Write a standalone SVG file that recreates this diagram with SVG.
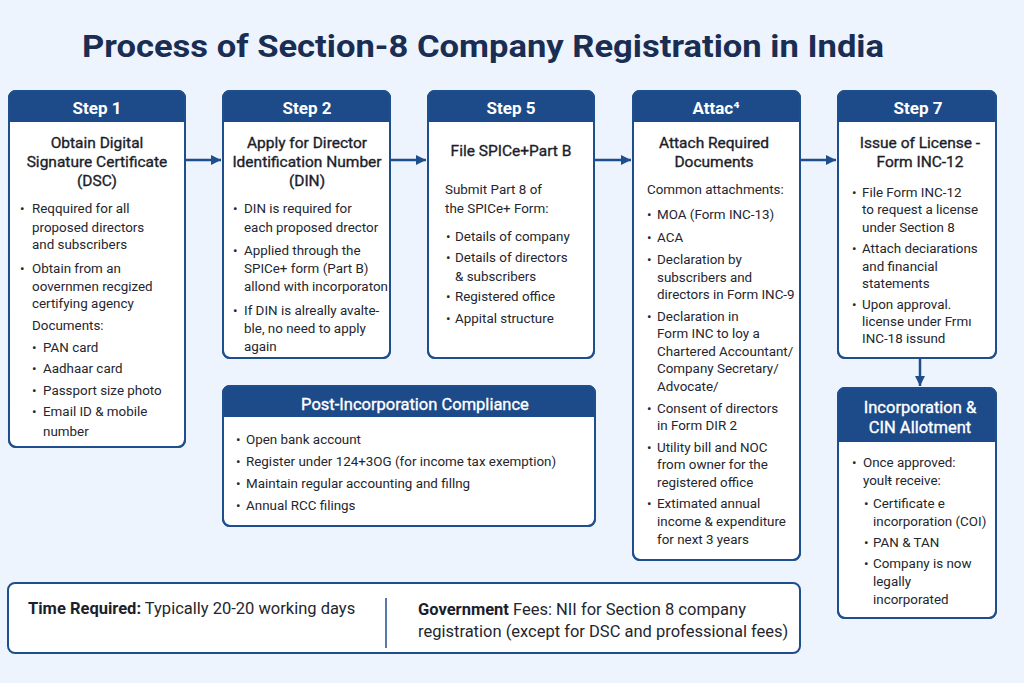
<svg xmlns="http://www.w3.org/2000/svg" width="1024" height="683" viewBox="0 0 1024 683">
<defs>
<style>
.bg{fill:#eef4fd}
.box{fill:#ffffff;stroke:#1f4e8c;stroke-width:2}
.hdr{fill:#1d4a88}
.ht{font-family:Roboto,"Liberation Sans",sans-serif;font-size:17px;font-weight:700;fill:#ffffff;text-anchor:middle}
.ht2{font-family:Roboto,"Liberation Sans",sans-serif;font-size:16.5px;font-weight:400;fill:#ffffff;stroke:#ffffff;stroke-width:0.35;text-anchor:middle}
.tt{font-family:Roboto,"Liberation Sans",sans-serif;font-size:15.5px;font-weight:400;fill:#1b1e2b;stroke:#1b1e2b;stroke-width:0.35;text-anchor:middle}
.b{font-family:Roboto,"Liberation Sans",sans-serif;font-size:13.4px;fill:#24262e}
.ft{font-family:Roboto,"Liberation Sans",sans-serif;font-size:16.5px;fill:#24262e}
.fb{font-weight:700;fill:#1b1e2b}
.title{font-family:Roboto,"Liberation Sans",sans-serif;font-size:31px;font-weight:700;fill:#1a2d52;text-anchor:middle}
.con{stroke:#1f4e8c;stroke-width:2.5;fill:none}
</style>
<marker id="ah" viewBox="0 0 10 10" refX="10" refY="5" markerWidth="4" markerHeight="4" markerUnits="strokeWidth" orient="auto">
<path d="M0,0 L10,5 L0,10 Z" fill="#1f4e8c"/>
</marker>
</defs>
<rect class="bg" x="0" y="0" width="1024" height="683"/>
<text class="title" x="483" y="57" textLength="802" lengthAdjust="spacingAndGlyphs">Process of Section-8 Company Registration in India</text>

<g id="connectors">
<line class="con" x1="186" y1="160" x2="221" y2="160" marker-end="url(#ah)"/>
<line class="con" x1="391" y1="160" x2="426" y2="160" marker-end="url(#ah)"/>
<line class="con" x1="595" y1="160" x2="631" y2="160" marker-end="url(#ah)"/>
<line class="con" x1="801" y1="160" x2="836" y2="160" marker-end="url(#ah)"/>
<line class="con" x1="920" y1="359" x2="920" y2="386" marker-end="url(#ah)"/>
</g>

<g id="step1">
<rect class="box" x="9" y="91" width="176" height="356" rx="7"/>
<path class="hdr" d="M9,122 L9,98 Q9,91 16,91 L178,91 Q185,91 185,98 L185,122 Z"/>
<rect x="9" y="91" width="176" height="356" rx="7" fill="none" stroke="#1f4e8c" stroke-width="2"/>
<text class="ht" x="97" y="114">Step 1</text>
<text class="tt" x="97" y="148">Obtain Digital</text>
<text class="tt" x="97" y="167">Signature Certificate</text>
<text class="tt" x="97" y="186">(DSC)</text>
<text class="b" x="20" y="213">•</text><text class="b" x="32" y="213">Reqquired for all</text>
<text class="b" x="32" y="232">proposed directors</text>
<text class="b" x="32" y="249">and subscribers</text>
<text class="b" x="20" y="273">•</text><text class="b" x="32" y="273">Obtain from an</text>
<text class="b" x="32" y="291">oovernmen  recgized</text>
<text class="b" x="32" y="308">certifying agency</text>
<text class="b" x="32" y="330">Documents:</text>
<text class="b" x="32" y="352">•</text><text class="b" x="43" y="352">PAN card</text>
<text class="b" x="32" y="373">•</text><text class="b" x="43" y="373">Aadhaar card</text>
<text class="b" x="32" y="395">•</text><text class="b" x="43" y="395">Passport size photo</text>
<text class="b" x="32" y="416">•</text><text class="b" x="43" y="416">Email ID &amp; mobile</text>
<text class="b" x="43" y="436">number</text>
</g>

<g id="step2">
<rect class="box" x="223" y="91" width="167" height="267" rx="7"/>
<path class="hdr" d="M223,122 L223,98 Q223,91 230,91 L383,91 Q390,91 390,98 L390,122 Z"/>
<rect x="223" y="91" width="167" height="267" rx="7" fill="none" stroke="#1f4e8c" stroke-width="2"/>
<text class="ht" x="307" y="114">Step 2</text>
<text class="tt" x="307" y="148">Apply for Director</text>
<text class="tt" x="307" y="167">Identification Number</text>
<text class="tt" x="307" y="186">(DIN)</text>
<text class="b" x="233" y="213">•</text><text class="b" x="244" y="213">DIN is required for</text>
<text class="b" x="244" y="232">each proposed drector</text>
<text class="b" x="233" y="255">•</text><text class="b" x="244" y="255">Applied through the</text>
<text class="b" x="244" y="273">SPICe+ form (Part B)</text>
<text class="b" x="244" y="291">allond with incorporaton</text>
<text class="b" x="233" y="315">•</text><text class="b" x="244" y="315">If DIN is alreally avalte-</text>
<text class="b" x="244" y="333">ble, no need to apply</text>
<text class="b" x="244" y="351">again</text>
</g>

<g id="step5">
<rect class="box" x="428" y="91" width="166" height="267" rx="7"/>
<path class="hdr" d="M428,122 L428,98 Q428,91 435,91 L587,91 Q594,91 594,98 L594,122 Z"/>
<rect x="428" y="91" width="166" height="267" rx="7" fill="none" stroke="#1f4e8c" stroke-width="2"/>
<text class="ht" x="511" y="114">Step 5</text>
<text class="tt" x="511" y="156">File SPICe+Part B</text>
<text class="b" x="445" y="194">Submit Part 8 of</text>
<text class="b" x="445" y="213">the SPICe+ Form:</text>
<text class="b" x="446" y="241">•</text><text class="b" x="455" y="241">Details of company</text>
<text class="b" x="446" y="262">•</text><text class="b" x="455" y="262">Details of directors</text>
<text class="b" x="455" y="281">&amp; subscribers</text>
<text class="b" x="446" y="301">•</text><text class="b" x="455" y="301">Registered office</text>
<text class="b" x="446" y="323">•</text><text class="b" x="455" y="323">Appital structure</text>
</g>

<g id="attach">
<rect class="box" x="633" y="91" width="167" height="469" rx="7"/>
<path class="hdr" d="M633,122 L633,98 Q633,91 640,91 L793,91 Q800,91 800,98 L800,122 Z"/>
<rect x="633" y="91" width="167" height="469" rx="7" fill="none" stroke="#1f4e8c" stroke-width="2"/>
<text class="ht" x="716" y="114">Attac⁴</text>
<text class="tt" x="714" y="148">Attach Required</text>
<text class="tt" x="714" y="167">Documents</text>
<text class="b" x="647" y="194">Common attachments:</text>
<text class="b" x="647" y="219">•</text><text class="b" x="657" y="219">MOA (Form INC-13)</text>
<text class="b" x="647" y="242">•</text><text class="b" x="657" y="242">ACA</text>
<text class="b" x="647" y="264">•</text><text class="b" x="657" y="264">Declaration by</text>
<text class="b" x="657" y="282">subscribers and</text>
<text class="b" x="657" y="299">directors in Form INC-9</text>
<text class="b" x="647" y="321">•</text><text class="b" x="657" y="321">Declaration in</text>
<text class="b" x="657" y="338">Form INC to loy a</text>
<text class="b" x="657" y="356">Chartered Accountant/</text>
<text class="b" x="657" y="373">Company Secretary/</text>
<text class="b" x="657" y="391">Advocate/</text>
<text class="b" x="647" y="413">•</text><text class="b" x="657" y="413">Consent of directors</text>
<text class="b" x="657" y="430">in Form DIR 2</text>
<text class="b" x="647" y="452">•</text><text class="b" x="657" y="452">Utility bill and NOC</text>
<text class="b" x="657" y="469">from owner for the</text>
<text class="b" x="657" y="487">registered office</text>
<text class="b" x="647" y="508">•</text><text class="b" x="657" y="508">Extimated annual</text>
<text class="b" x="657" y="526">income &amp; expenditure</text>
<text class="b" x="657" y="544">for next 3 years</text>
</g>

<g id="step7">
<rect class="box" x="838" y="91" width="158" height="267" rx="7"/>
<path class="hdr" d="M838,122 L838,98 Q838,91 845,91 L989,91 Q996,91 996,98 L996,122 Z"/>
<rect x="838" y="91" width="158" height="267" rx="7" fill="none" stroke="#1f4e8c" stroke-width="2"/>
<text class="ht" x="918" y="114">Step 7</text>
<text class="tt" x="920" y="148">Issue of License -</text>
<text class="tt" x="920" y="167">Form INC-12</text>
<text class="b" x="852" y="197">•</text><text class="b" x="862" y="197">File Form INC-12</text>
<text class="b" x="862" y="214">to request a license</text>
<text class="b" x="862" y="232">under Section 8</text>
<text class="b" x="852" y="253">•</text><text class="b" x="862" y="253">Attach deciarations</text>
<text class="b" x="862" y="271">and financial</text>
<text class="b" x="862" y="288">statements</text>
<text class="b" x="852" y="309">•</text><text class="b" x="862" y="309">Upon approval.</text>
<text class="b" x="862" y="326">license under Frmı</text>
<text class="b" x="862" y="343">INC-18 issund</text>
</g>

<g id="incorporation">
<rect class="box" x="838" y="388" width="158" height="230" rx="7"/>
<path class="hdr" d="M838,442 L838,395 Q838,388 845,388 L989,388 Q996,388 996,395 L996,442 Z"/>
<rect x="838" y="388" width="158" height="230" rx="7" fill="none" stroke="#1f4e8c" stroke-width="2"/>
<text class="ht2" x="920" y="413">Incorporation &amp;</text>
<text class="ht2" x="920" y="433">CIN Allotment</text>
<text class="b" x="852" y="467">•</text><text class="b" x="863" y="467">Once approved:</text>
<text class="b" x="863" y="485">youlŧ receive:</text>
<text class="b" x="864" y="508">•</text><text class="b" x="873" y="508">Certificate e</text>
<text class="b" x="873" y="526">incorporation (COI)</text>
<text class="b" x="864" y="547">•</text><text class="b" x="873" y="547">PAN &amp; TAN</text>
<text class="b" x="864" y="568">•</text><text class="b" x="873" y="568">Company is now</text>
<text class="b" x="873" y="586">legally</text>
<text class="b" x="873" y="604">incorporated</text>
</g>

<g id="post">
<rect class="box" x="223" y="386" width="372" height="140" rx="7"/>
<path class="hdr" d="M223,417 L223,393 Q223,386 230,386 L588,386 Q595,386 595,393 L595,417 Z"/>
<rect x="223" y="386" width="372" height="140" rx="7" fill="none" stroke="#1f4e8c" stroke-width="2"/>
<text class="ht2" x="415" y="410">Post-Incorporation Compliance</text>
<text class="b" x="236" y="444">•</text><text class="b" x="246" y="444">Open bank account</text>
<text class="b" x="236" y="466">•</text><text class="b" x="246" y="466">Register under 124+3OG (for income tax exemption)</text>
<text class="b" x="236" y="488">•</text><text class="b" x="246" y="488">Maintain regular accounting and fillng</text>
<text class="b" x="236" y="510">•</text><text class="b" x="246" y="510">Annual RCC filings</text>
</g>

<g id="footer">
<rect class="box" x="8" y="583" width="792" height="70" rx="7"/>
<line x1="386" y1="598" x2="386" y2="648" stroke="#1f4e8c" stroke-width="1.5"/>
<text class="ft" x="28" y="614"><tspan class="fb">Time Required:</tspan> Typically 20-20 working days</text>
<text class="ft" x="418" y="615"><tspan class="fb">Government</tspan> Fees: NII for Section 8 company</text>
<text class="ft" x="418" y="637">registration (except for DSC and professional fees)</text>
</g>
</svg>
